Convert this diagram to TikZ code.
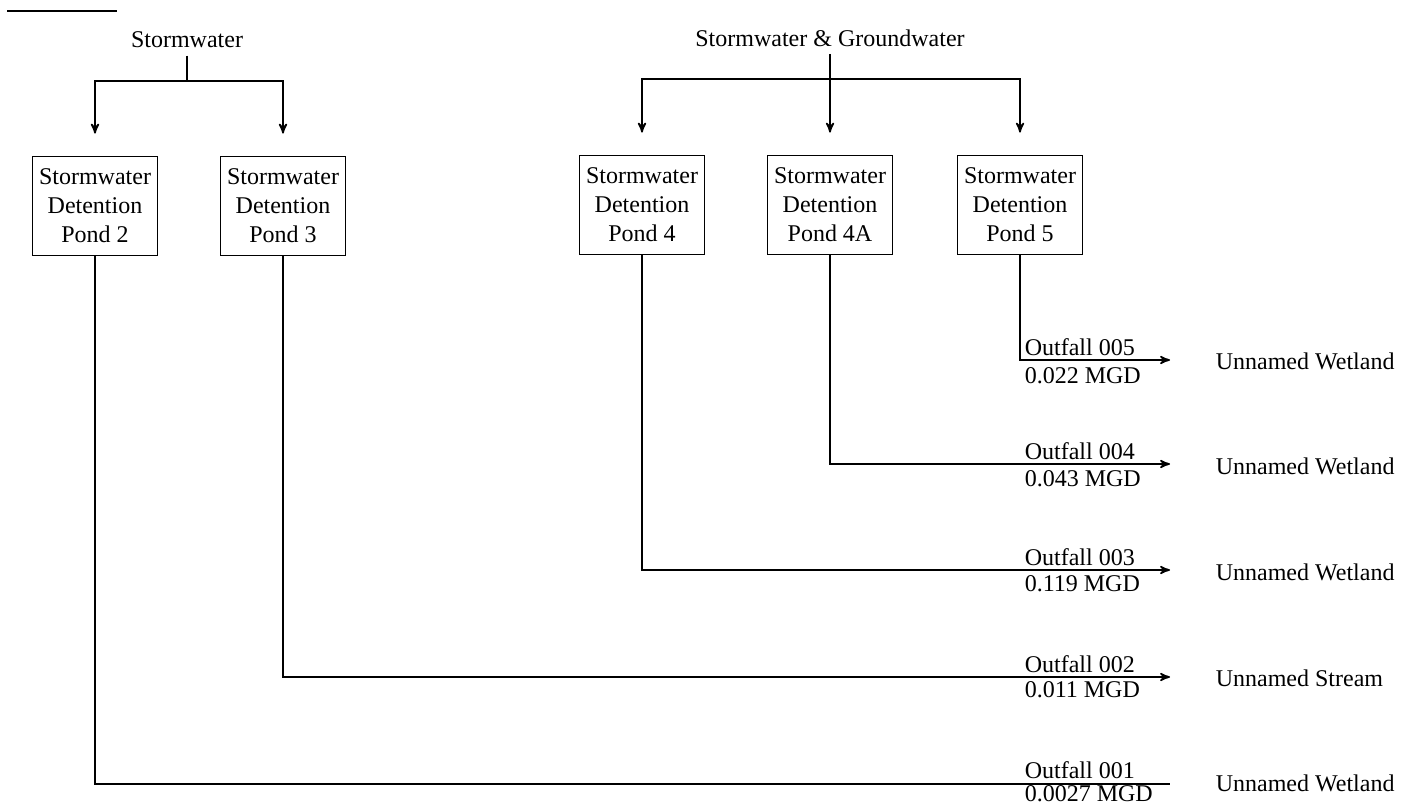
\documentclass[tikz,border=0pt]{standalone}
\usepackage{fontspec}
\setmainfont{Liberation Serif}
\usetikzlibrary{%
  arrows,%
  positioning,% wg. " of "
  calc
}

\tikzset{
  pond/.style={draw, line width=0.9pt, align=center, minimum width=62.5pt,
    minimum height=49.5pt, inner sep=1pt, font=\fontsize{12}{14.5}\selectfont},
  flow/.style={anchor=west, inner sep=0pt},
  dest/.style={anchor=west, inner sep=0pt}
}

\begin{document}
\begin{tikzpicture}[
  x=0.5pt, y=-0.5pt,
  font=\fontsize{12}{14.5}\selectfont,
  >=stealth',
  line width=0.8pt
]
\useasboundingbox (0,0) rectangle (1401,807);

\draw[line width=1pt] (7,11) -- (117,11);

% sources
\node (sw)  at (187,40) {Stormwater};
\node (swg) at (830,38) {Stormwater \& Groundwater};
\coordinate (swj) at (187,81);
\coordinate (swgj) at (830,79);

% ponds
\node[pond] (p2)  at (95,206)   {Stormwater\\Detention\\Pond 2};
\node[pond] (p3)  at (283,206)  {Stormwater\\Detention\\Pond 3};
\node[pond] (p4)  at (642,205)  {Stormwater\\Detention\\Pond 4};
\node[pond] (p4a) at (830,205)  {Stormwater\\Detention\\Pond 4A};
\node[pond] (p5)  at (1020,205) {Stormwater\\Detention\\Pond 5};

\draw (sw) -- (swj);
\draw[->,shorten >=11pt] (swj) -| (p2.north);
\draw[->,shorten >=11pt] (swj) -| (p3.north);

\draw[->,shorten >=11pt] (swg) -- (p4a.north);
\draw[->,shorten >=11pt] (swgj) -| (p4.north);
\draw[->,shorten >=11pt] (swgj) -| (p5.north);

% outfalls
\coordinate (o5) at (1170,360);
\coordinate (o4) at (1170,464);
\coordinate (o3) at (1170,570);
\coordinate (o2) at (1170,677);
\coordinate (o1) at (1170,784);

\draw[->] (p5.south)  |- (o5);
\draw[->] (p4a.south) |- (o4);
\draw[->] (p4.south)  |- (o3);
\draw[->] (p3.south)  |- (o2);
\draw (p2.south) |- (o1);

\node[flow] (f5a) at (1024,347) {Outfall 005};
\node[flow] (f5b) at (1024,376) {0.022 MGD};
\node[flow] (f4a) at (1024,451) {Outfall 004};
\node[flow] (f4b) at (1024,479) {0.043 MGD};
\node[flow] (f3a) at (1024,557) {Outfall 003};
\node[flow] (f3b) at (1024,584) {0.119 MGD};
\node[flow] (f2a) at (1024,664) {Outfall 002};
\node[flow] (f2b) at (1024,690) {0.011 MGD};
\node[flow] (f1a) at (1024,770) {Outfall 001};
\node[flow] (f1b) at (1024,794) {0.0027 MGD};

% receiving waters
\node[dest] (w5) at (1215,361) {Unnamed Wetland};
\node[dest] (w4) at (1215,466) {Unnamed Wetland};
\node[dest] (w3) at (1215,572) {Unnamed Wetland};
\node[dest] (w2) at (1215,678) {Unnamed Stream};
\node[dest] (w1) at (1215,783) {Unnamed Wetland};

\end{tikzpicture}
\end{document}
